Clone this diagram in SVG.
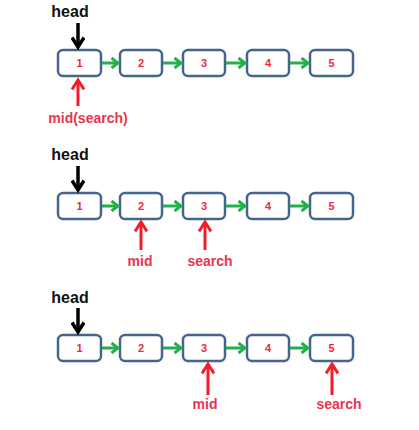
<svg xmlns="http://www.w3.org/2000/svg" width="419" height="430" viewBox="0 0 419 430">
<style>
.box{fill:#fff;stroke:#44658c;stroke-width:2.5}
.num{font-family:"Liberation Sans",Arial,sans-serif;font-size:11px;font-weight:bold;fill:#f0283c;text-anchor:middle}
.head{font-family:"Liberation Sans",Arial,sans-serif;font-size:16px;font-weight:bold;fill:#111;text-anchor:middle}
.lbl{font-family:"Liberation Sans",Arial,sans-serif;font-size:14px;font-weight:bold;fill:#e8344e;text-anchor:middle}
.g{stroke:#22b04a;stroke-width:3;fill:none}
.k{stroke:#000;stroke-width:3.5;fill:none}
.r{stroke:#f01e28;stroke-width:3;fill:none}
</style>
<defs>
<marker id="ag" markerWidth="10" markerHeight="12" refX="8" refY="6" orient="auto" markerUnits="userSpaceOnUse"><path d="M1.5,1 L8,6 L1.5,11" fill="none" stroke="#22b04a" stroke-width="3"/></marker>
<marker id="ak" markerWidth="16" markerHeight="14" refX="11" refY="7" orient="auto" markerUnits="userSpaceOnUse"><path d="M1.5,1 L11,7 L1.5,13" fill="none" stroke="#000" stroke-width="3.5"/></marker>
<marker id="ar" markerWidth="16" markerHeight="14" refX="11" refY="7" orient="auto" markerUnits="userSpaceOnUse"><path d="M1.5,1 L11,7 L1.5,13" fill="none" stroke="#f01e28" stroke-width="3"/></marker>
</defs>

<g id="row1">
<text class="head" x="70" y="17">head</text>
<g id="r1n1"><rect class="box" x="58" y="50" width="43" height="26" rx="5"/><text class="num" x="79.5" y="67">1</text></g>
<g id="r1n2"><rect class="box" x="120" y="50" width="42" height="26" rx="5"/><text class="num" x="141" y="67">2</text></g>
<g id="r1n3"><rect class="box" x="183" y="50" width="42" height="26" rx="5"/><text class="num" x="204" y="67">3</text></g>
<g id="r1n4"><rect class="box" x="247" y="50" width="42" height="26" rx="5"/><text class="num" x="268" y="67">4</text></g>
<g id="r1n5"><rect class="box" x="310" y="50" width="43" height="26" rx="5"/><text class="num" x="331.5" y="67">5</text></g>
<text class="lbl" x="88" y="123">mid(search)</text>
</g>

<g id="row2">
<text class="head" x="70" y="160">head</text>
<g id="r2n1"><rect class="box" x="58" y="193" width="43" height="26" rx="5"/><text class="num" x="79.5" y="210">1</text></g>
<g id="r2n2"><rect class="box" x="120" y="193" width="42" height="26" rx="5"/><text class="num" x="141" y="210">2</text></g>
<g id="r2n3"><rect class="box" x="183" y="193" width="42" height="26" rx="5"/><text class="num" x="204" y="210">3</text></g>
<g id="r2n4"><rect class="box" x="247" y="193" width="42" height="26" rx="5"/><text class="num" x="268" y="210">4</text></g>
<g id="r2n5"><rect class="box" x="310" y="193" width="43" height="26" rx="5"/><text class="num" x="331.5" y="210">5</text></g>
<text class="lbl" x="140" y="266">mid</text>
<text class="lbl" x="210" y="266">search</text>
</g>

<g id="row3">
<text class="head" x="70" y="303">head</text>
<g id="r3n1"><rect class="box" x="58" y="335" width="43" height="26" rx="5"/><text class="num" x="79.5" y="352">1</text></g>
<g id="r3n2"><rect class="box" x="120" y="335" width="42" height="26" rx="5"/><text class="num" x="141" y="352">2</text></g>
<g id="r3n3"><rect class="box" x="183" y="335" width="42" height="26" rx="5"/><text class="num" x="204" y="352">3</text></g>
<g id="r3n4"><rect class="box" x="247" y="335" width="42" height="26" rx="5"/><text class="num" x="268" y="352">4</text></g>
<g id="r3n5"><rect class="box" x="310" y="335" width="43" height="26" rx="5"/><text class="num" x="331.5" y="352">5</text></g>
<text class="lbl" x="205" y="409">mid</text>
<text class="lbl" x="339" y="409">search</text>
</g>

<g id="connectors">
<path class="g" marker-end="url(#ag)" d="M102,63 H118"/>
<path class="g" marker-end="url(#ag)" d="M163,63 H181"/>
<path class="g" marker-end="url(#ag)" d="M226,63 H245"/>
<path class="g" marker-end="url(#ag)" d="M290,63 H308"/>
<path class="g" marker-end="url(#ag)" d="M102,206 H118"/>
<path class="g" marker-end="url(#ag)" d="M163,206 H181"/>
<path class="g" marker-end="url(#ag)" d="M226,206 H245"/>
<path class="g" marker-end="url(#ag)" d="M290,206 H308"/>
<path class="g" marker-end="url(#ag)" d="M102,348 H118"/>
<path class="g" marker-end="url(#ag)" d="M163,348 H181"/>
<path class="g" marker-end="url(#ag)" d="M226,348 H245"/>
<path class="g" marker-end="url(#ag)" d="M290,348 H308"/>
<path class="k" marker-end="url(#ak)" d="M78,23 V47"/>
<path class="k" marker-end="url(#ak)" d="M78,166 V190"/>
<path class="k" marker-end="url(#ak)" d="M78,308 V332"/>
<path class="r" marker-end="url(#ar)" d="M78,106 V80"/>
<path class="r" marker-end="url(#ar)" d="M141,250 V222"/>
<path class="r" marker-end="url(#ar)" d="M205,250 V222"/>
<path class="r" marker-end="url(#ar)" d="M208,395 V364"/>
<path class="r" marker-end="url(#ar)" d="M332,395 V364"/>
</g>
</svg>
